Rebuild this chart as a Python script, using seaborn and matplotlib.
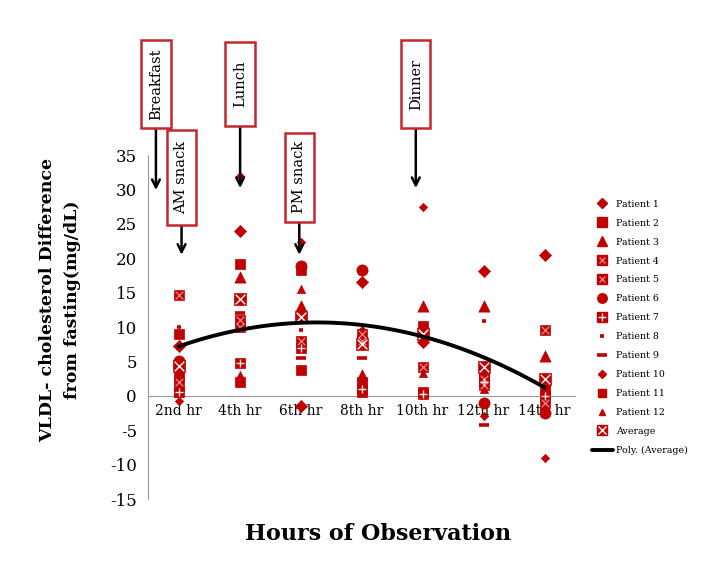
import numpy as np
import pandas as pd
import seaborn as sns
import matplotlib.pyplot as plt
from matplotlib.lines import Line2D
from matplotlib.patches import Rectangle

# === data ===
hours = ["2nd hr", "4th hr", "6th hr", "8th hr", "10th hr", "12th hr", "14th hr"]

patient_1 = [7.3, 24.0, -1.5, 16.5, 7.8, 18.1, 20.4]
patient_2 = [9.0, 19.2, 3.7, 0.5, 10.2, 3.0, 2.0]
patient_3 = [1.5, 17.3, 13.0, 3.0, 13.0, 13.0, 5.8]
patient_4 = [14.6, 11.0, 11.5, 8.0, 4.2, 2.5, 9.5]
patient_5 = [2.0, 10.0, 8.0, 9.0, 9.0, 1.5, -1.0]
patient_6 = [5.0, 14.0, 18.8, 18.3, 9.5, -1.0, -2.5]
patient_7 = [0.5, 4.8, 7.0, 1.0, 0.3, 2.0, 0.0]
patient_8 = [10.0, 9.5, 9.5, 2.5, 8.5, 10.8, -3.0]
patient_9 = [0.0, 12.0, 5.5, 5.5, 8.5, -4.2, -2.0]
patient_10 = [-0.8, 32.0, 22.3, 9.5, 27.4, -3.0, -9.0]
patient_11 = [3.0, 2.0, 18.3, 2.0, 0.5, 3.5, 1.0]
patient_12 = [1.0, 3.0, 15.5, 2.0, 3.3, 1.0, -0.5]
average = [4.4, 14.0, 11.5, 7.5, 9.0, 4.2, 2.5]

series = [
    ("Patient 1", patient_1), ("Patient 2", patient_2), ("Patient 3", patient_3),
    ("Patient 4", patient_4), ("Patient 5", patient_5), ("Patient 6", patient_6),
    ("Patient 7", patient_7), ("Patient 8", patient_8), ("Patient 9", patient_9),
    ("Patient 10", patient_10), ("Patient 11", patient_11), ("Patient 12", patient_12),
    ("Average", average),
]

meals = [  # label, x (category units), box bottom, box top, arrow tip
    ("Breakfast", -0.37, 38.9, 51.7, 29.9),
    ("AM snack", 0.05, 24.8, 38.6, 20.5),
    ("Lunch", 1.01, 39.2, 51.4, 30.2),
    ("PM snack", 1.98, 25.3, 38.2, 20.5),
    ("Dinner", 3.89, 38.9, 51.7, 30.2),
]

RED = "#C00000"
sns.set_style("white")
plt.rcParams["font.family"] = ["DejaVu Serif"]
plt.rcParams["axes.unicode_minus"] = False
plt.rcParams["text.color"] = "black"
plt.rcParams["axes.labelcolor"] = "black"
plt.rcParams["xtick.labelcolor"] = "black"
plt.rcParams["ytick.labelcolor"] = "black"

# marker, size, overlay marker, overlay size, overlay alpha
styles = {
    "Patient 1": ("D", 38, None, 0, 0),
    "Patient 2": ("s", 60, None, 0, 0),
    "Patient 3": ("^", 65, None, 0, 0),
    "Patient 4": ("s", 60, "x", 30, 0.5),
    "Patient 5": ("s", 60, "x", 30, 0.5),
    "Patient 6": ("o", 65, None, 0, 0),
    "Patient 7": ("s", 60, "+", 40, 0.9),
    "Patient 8": ("_", 12, None, 0, 0),
    "Patient 9": ("_", 50, None, 0, 0),
    "Patient 10": ("D", 18, None, 0, 0),
    "Patient 11": ("s", 48, None, 0, 0),
    "Patient 12": ("^", 35, None, 0, 0),
    "Average": ("s", 70, "x", 48, 1.0),
}

fig = plt.figure(figsize=(7.15, 5.65), dpi=100)
ax = fig.add_axes([148 / 715, 1 - 499 / 565, 427 / 715, 344 / 565])

xpos = np.arange(len(hours))
handles = []
for name, vals in series:
    m, s, ov, ovs, ova = styles[name]
    if m == "_":
        sns.scatterplot(x=xpos, y=vals, marker=m, s=s, color=RED, linewidth=2.6, ax=ax, zorder=3)
        h = Line2D([], [], ls="", marker=m, color=RED, markersize=np.sqrt(s), mew=2.6)
    else:
        sns.scatterplot(x=xpos, y=vals, marker=m, s=s, color=RED, edgecolor=RED, linewidth=0.5, ax=ax, zorder=3)
        h = Line2D([], [], ls="", marker=m, color=RED, markersize=np.sqrt(s) * 0.85)
    if ov:
        ax.scatter(xpos, vals, marker=ov, s=ovs, color="white", alpha=ova, linewidths=1.0, zorder=4)
        h = (h, Line2D([], [], ls="", marker=ov, color="white", alpha=ova,
                       markersize=np.sqrt(ovs) * 0.85, mew=1.0))
    handles.append((h, name))

# quadratic trendline of the average
avg_df = pd.DataFrame({"x": xpos, "avg": average})
sns.regplot(data=avg_df, x="x", y="avg", order=2, ci=None, scatter=False,
            line_kws=dict(color="black", lw=2.8, zorder=5), ax=ax)
handles.append((Line2D([], [], color="black", lw=2.8), "Poly. (Average)"))

# axes styling
ax.set_xlim(-0.5, 6.5)
ax.set_ylim(-15, 35)
ax.set_yticks(np.arange(-15, 36, 5))
ax.set_xticks(xpos)
ax.set_xticklabels(hours, fontsize=10.3)
ax.set_xticks(np.arange(-0.5, 7, 1), minor=True)
ax.tick_params(axis="x", which="major", length=0, pad=6)
ax.tick_params(axis="x", which="minor", length=4, color="#999999", direction="out")
ax.tick_params(axis="y", length=5, color="#999999", direction="out", labelsize=12, pad=3)
for side in ["top", "right"]:
    ax.spines[side].set_visible(False)
ax.spines["bottom"].set_position(("data", 0))
ax.spines["bottom"].set_color("#999999")
ax.spines["left"].set_color("#999999")

ax.set_xlabel("Hours of Observation", fontsize=16, fontweight="bold")
ax.xaxis.set_label_coords(0.539, -0.07)
ax.set_ylabel("VLDL- cholesterol Difference\nfrom fasting(mg/dL)", fontsize=12.5,
              fontweight="bold", linespacing=1.6)
ax.yaxis.set_label_coords(-0.158, 0.58)

# meal annotations
for label, x, y0, y1, tip in meals:
    box = Rectangle((x - 0.24, y0), 0.48, y1 - y0, facecolor="white", edgecolor="#C0282D",
                    lw=1.8, clip_on=False, zorder=6)
    ax.add_patch(box)
    ax.text(x, (y0 + y1) / 2, label, rotation=90, ha="center", va="center", fontsize=10.5,
            zorder=7, clip_on=False)
    ax.annotate("", xy=(x, tip), xytext=(x, y0), annotation_clip=False,
                arrowprops=dict(arrowstyle="->", color="black", lw=1.8, mutation_scale=14,
                                shrinkA=0, shrinkB=0))

fig.legend([h for h, _ in handles], [n for _, n in handles], loc="upper left",
           bbox_to_anchor=(588 / 715, 1 - 196 / 565), frameon=False, fontsize=6.8,
           labelspacing=1.05, handlelength=2.2, handletextpad=0.4, borderaxespad=0)

fig.savefig("out.png", dpi=100)
